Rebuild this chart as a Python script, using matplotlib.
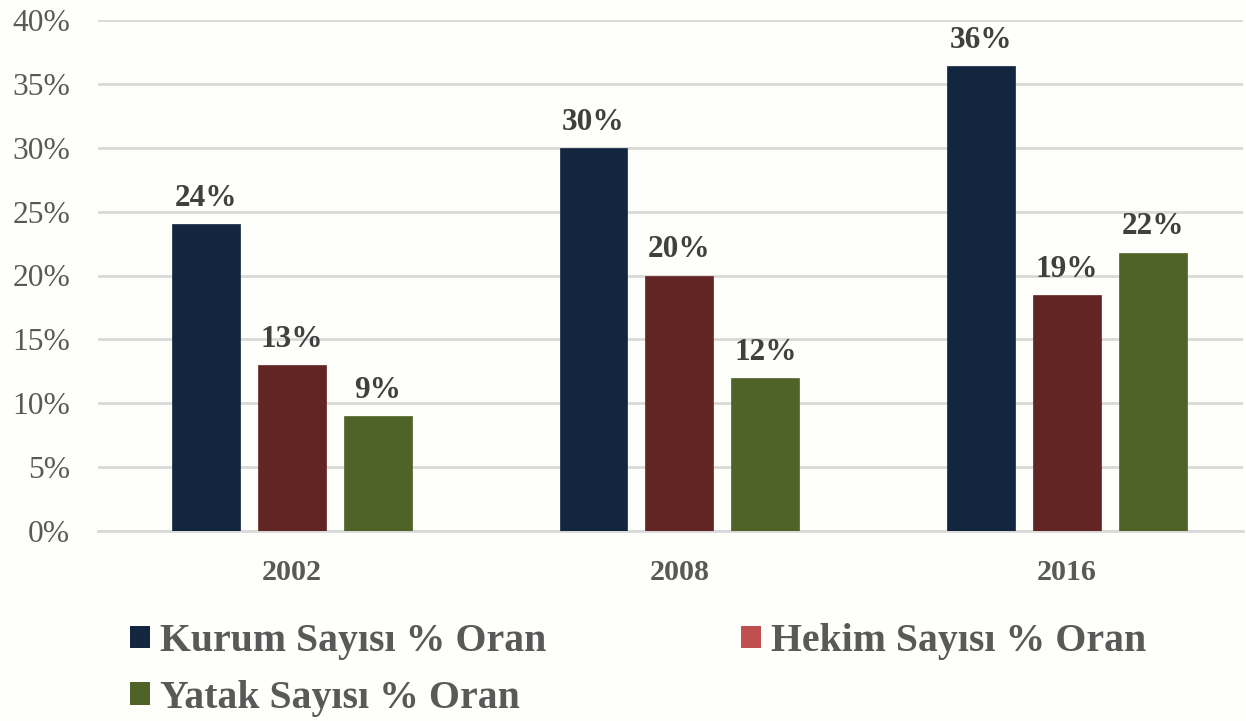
import matplotlib
matplotlib.use("Agg")
import matplotlib.pyplot as plt
from matplotlib.patches import Patch
import numpy as np

years = ["2002", "2008", "2016"]
series_names = ["Kurum Sayısı % Oran", "Hekim Sayısı % Oran", "Yatak Sayısı % Oran"]
kurum = [24.0, 30.0, 36.4]
hekim = [13.0, 20.0, 18.5]
yatak = [9.0, 12.0, 21.8]
labels_kurum = ["24%", "30%", "36%"]
labels_hekim = ["13%", "20%", "19%"]
labels_yatak = ["9%", "12%", "22%"]
yticks = [0, 5, 10, 15, 20, 25, 30, 35, 40]
ytick_labels = ["0%", "5%", "10%", "15%", "20%", "25%", "30%", "35%", "40%"]

bar_colors = ["#12263F", "#632523", "#4F6228"]
legend_colors = ["#12263F", "#C0504D", "#4F6228"]
bg = "#FEFEFA"

plt.rcParams['font.family'] = ['Liberation Serif', 'DejaVu Serif']

fig = plt.figure(figsize=(12.46, 7.21), dpi=100, facecolor=bg)
ax = fig.add_axes([98/1246, 1 - 531/721, (1243-98)/1246, (531-20)/721])
ax.set_facecolor(bg)

x = np.arange(len(years))
w = 0.175
off = 0.2216
for i, (vals, labs) in enumerate(zip([kurum, hekim, yatak], [labels_kurum, labels_hekim, labels_yatak])):
    bars = ax.bar(x + (i - 1) * off, vals, width=w, color=bar_colors[i], zorder=3,
                  edgecolor=bar_colors[i], linewidth=0.5)
    for b, lab in zip(bars, labs):
        ax.annotate(lab, (b.get_x() + b.get_width() / 2, b.get_height()),
                    xytext=(0, 8), textcoords="offset points", ha="center", va="bottom",
                    fontsize=22.5, fontweight="bold", color="#404040")

ax.set_xlim(-0.5, 2.454)
ax.set_ylim(0, 40)
ax.set_yticks(yticks)
ax.set_yticklabels(ytick_labels, fontsize=22.7, color="#595959")
ax.set_xticks(x)
ax.set_xticklabels(years, fontsize=21.6, fontweight="bold", color="#595959")
ax.tick_params(axis="both", length=0)
ax.tick_params(axis="y", pad=20)
ax.tick_params(axis="x", pad=20)
ax.grid(axis="y", color="#D9D9D9", linewidth=2, zorder=0)
for s in ["top", "right", "left"]:
    ax.spines[s].set_visible(False)
ax.spines["bottom"].set_color("#D9D9D9")
ax.spines["bottom"].set_linewidth(2)

handles = [Patch(facecolor=legend_colors[k], edgecolor="none", label=series_names[k]) for k in range(3)]
order = [0, 2, 1]
leg = fig.legend([handles[k] for k in order], [series_names[k] for k in order],
                 ncol=2, loc="upper left", bbox_to_anchor=(130/1246, 1 - 623/721),
                 frameon=False, prop={"size": 28.6, "weight": "bold"},
                 handlelength=0.5, handleheight=0.5, handletextpad=0.25,
                 columnspacing=4.9, labelspacing=0.5, borderpad=0, borderaxespad=0)
for t in leg.get_texts():
    t.set_color("#595959")

fig.savefig("out.png", dpi=100, facecolor=bg)
